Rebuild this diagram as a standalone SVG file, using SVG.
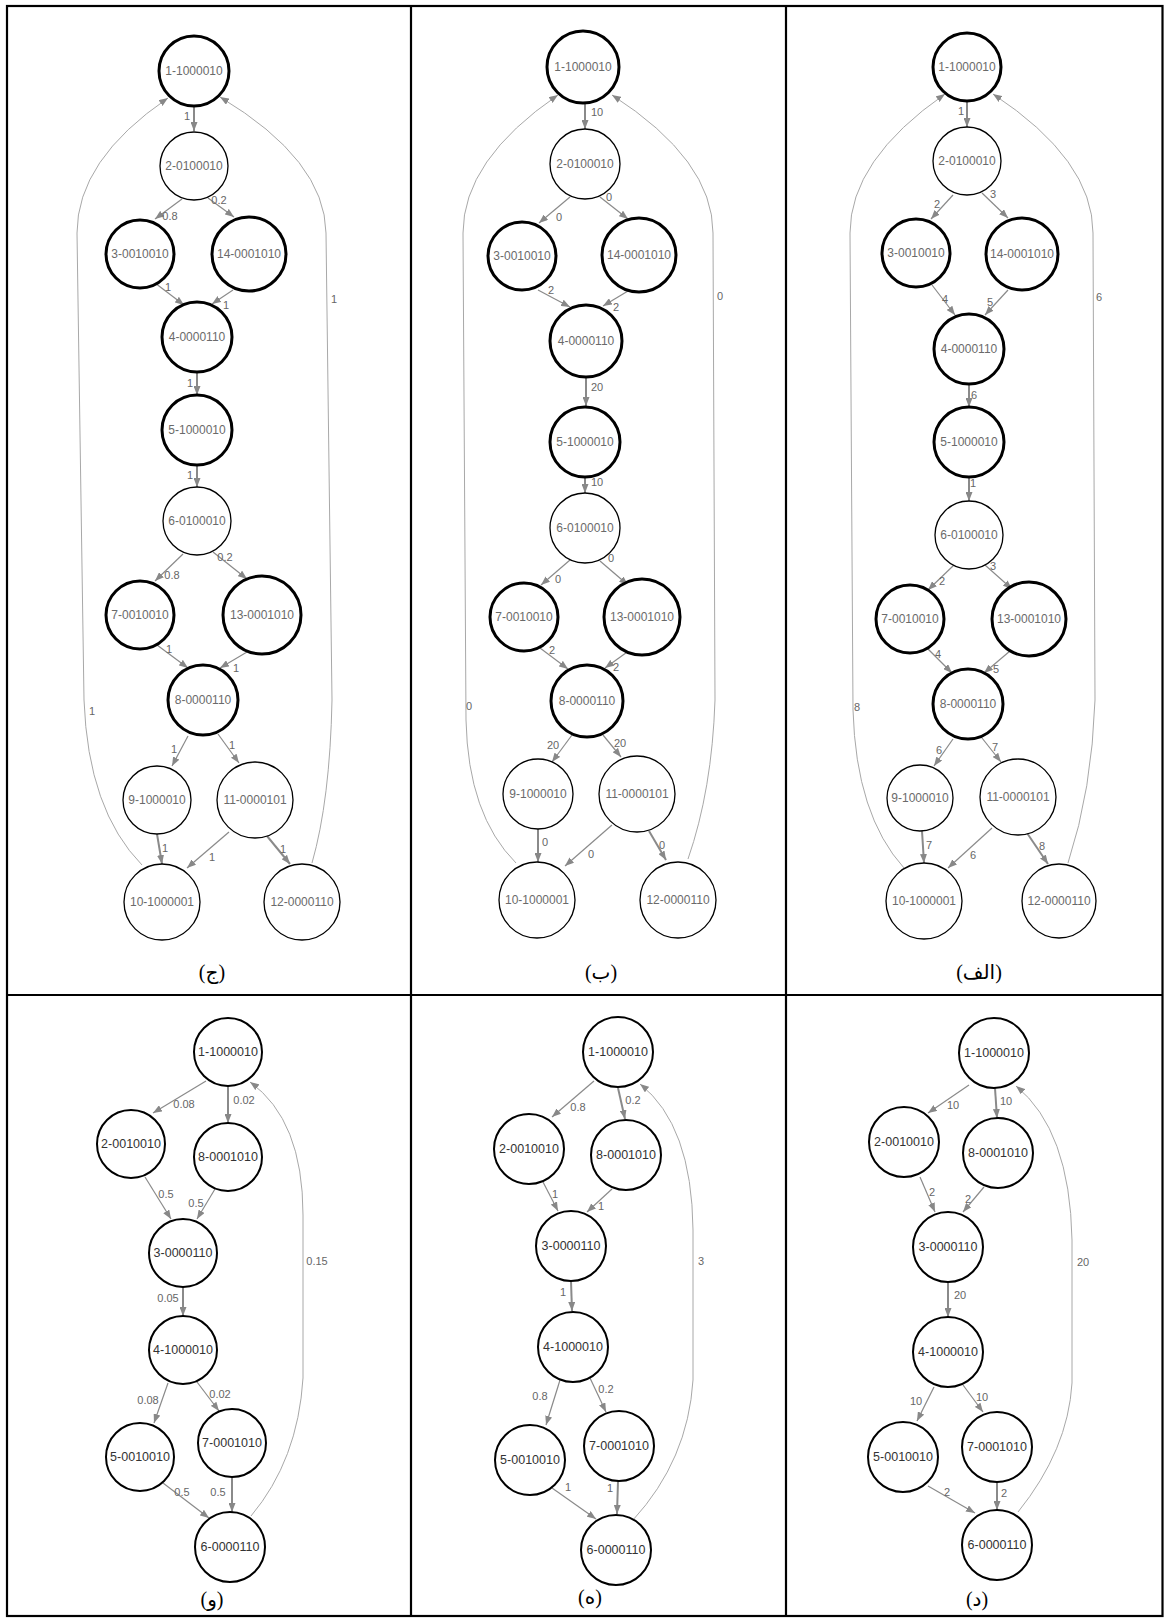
<svg xmlns="http://www.w3.org/2000/svg" width="1164" height="1618" viewBox="0 0 1164 1618">
<style>
.tk{fill:#fff;stroke:#000;stroke-width:3}
.tn{fill:#fff;stroke:#000;stroke-width:1.3}
.bn{fill:#fff;stroke:#000;stroke-width:2}
.nl{font-family:"Liberation Sans",Arial,sans-serif;font-size:12px;fill:#6a6a6a;text-anchor:middle}
.bl{font-family:"Liberation Sans",Arial,sans-serif;font-size:12.5px;fill:#333;text-anchor:middle}
.e{stroke:#8a8a8a;stroke-width:1.2;fill:none;marker-end:url(#ah)}
.v{stroke-width:2}
.c{stroke:#a8a8a8;stroke-width:1;fill:none;marker-end:url(#ah)}
.el{font-family:"Liberation Sans",Arial,sans-serif;font-size:11px;fill:#666;text-anchor:middle}
.cap{font-family:"Liberation Serif","DejaVu Sans",serif;font-size:20px;fill:#000;text-anchor:middle}
.tb{stroke:#000;stroke-width:2.2;fill:none}
</style>
<defs>
<marker id="ah" viewBox="0 0 9 7" refX="9" refY="3.5" markerWidth="9" markerHeight="7" markerUnits="userSpaceOnUse" orient="auto"><path d="M0,0 L9,3.5 L0,7 z" fill="#888"/></marker>
</defs>
<rect width="1164" height="1618" fill="#fff"/>
<g id="table">
<rect class="tb" x="7" y="6" width="1155.5" height="1610"/>
<line class="tb" x1="411" y1="6" x2="411" y2="1616"/>
<line class="tb" x1="786" y1="6" x2="786" y2="1616"/>
<line class="tb" x1="7" y1="995" x2="1162" y2="995"/>
</g>
<g id="connectors">
<!-- panel j -->
<path class="e v" d="M194,106 L194,131"/><text class="el" x="187" y="120">1</text>
<path class="e" d="M182,199 L155,219"/><text class="el" x="170" y="220">0.8</text>
<path class="e" d="M208,198 L234,217"/><text class="el" x="219" y="204">0.2</text>
<path class="e" d="M155,283 L184,305"/><text class="el" x="168" y="291">1</text>
<path class="e" d="M233,290 L212,304"/><text class="el" x="226" y="309">1</text>
<path class="e v" d="M197,372 L197,395"/><text class="el" x="190" y="387">1</text>
<path class="e v" d="M197,465 L197,487"/><text class="el" x="190" y="479">1</text>
<path class="e" d="M183,554 L155,581"/><text class="el" x="172" y="579">0.8</text>
<path class="e" d="M213,552 L247,579"/><text class="el" x="225" y="561">0.2</text>
<path class="e" d="M157,645 L188,668"/><text class="el" x="169" y="653">1</text>
<path class="e" d="M247,652 L220,668"/><text class="el" x="236" y="672">1</text>
<path class="e" d="M188,736 L172,766"/><text class="el" x="174" y="753">1</text>
<path class="e" d="M218,734 L239,763"/><text class="el" x="232" y="749">1</text>
<path class="e v" d="M157,834 L162,864"/><text class="el" x="165" y="852">1</text>
<path class="e" d="M229,832 L187,868"/><text class="el" x="212" y="861">1</text>
<path class="e v" d="M267,836 L290,864"/><text class="el" x="283" y="853">1</text>
<path class="c" d="M142,865 Q88,810 84,700 L77,233 Q77,160 168,98"/><text class="el" x="92" y="715">1</text>
<path class="c" d="M312,863 Q330,800 332,700 L326,233 Q325,160 220,97"/><text class="el" x="334" y="303">1</text>
<!-- panel b -->
<path class="e v" d="M585,103 L585,129"/><text class="el" x="597" y="116">10</text>
<path class="e" d="M570,197 L539,223"/><text class="el" x="559" y="221">0</text>
<path class="e" d="M600,197 L628,219"/><text class="el" x="609" y="201">0</text>
<path class="e" d="M538,290 L570,307"/><text class="el" x="551" y="294">2</text>
<path class="e" d="M628,291 L603,306"/><text class="el" x="616" y="311">2</text>
<path class="e v" d="M586,377 L586,406"/><text class="el" x="597" y="391">20</text>
<path class="e v" d="M585,477 L585,493"/><text class="el" x="597" y="486">10</text>
<path class="e" d="M570,560 L541,585"/><text class="el" x="558" y="583">0</text>
<path class="e" d="M600,561 L628,585"/><text class="el" x="611" y="562">0</text>
<path class="e" d="M540,648 L568,669"/><text class="el" x="552" y="654">2</text>
<path class="e" d="M630,650 L605,668"/><text class="el" x="616" y="671">2</text>
<path class="e" d="M572,735 L552,762"/><text class="el" x="553" y="749">20</text>
<path class="e" d="M603,735 L621,757"/><text class="el" x="620" y="747">20</text>
<path class="e v" d="M538,829 L538,862"/><text class="el" x="545" y="846">0</text>
<path class="e" d="M612,825 L565,866"/><text class="el" x="591" y="858">0</text>
<path class="e v" d="M649,831 L666,860"/><text class="el" x="662" y="849">0</text>
<path class="c" d="M516,863 Q468,815 466,720 L463,233 Q463,160 558,95"/><text class="el" x="469" y="710">0</text>
<path class="c" d="M688,859 Q712,790 715,700 L713,233 Q713,160 612,95"/><text class="el" x="720" y="300">0</text>
<!-- panel alef -->
<path class="e v" d="M967,101 L967,127"/><text class="el" x="961" y="115">1</text>
<path class="e" d="M953,195 L931,219"/><text class="el" x="937" y="208">2</text>
<path class="e" d="M982,193 L1008,218"/><text class="el" x="993" y="198">3</text>
<path class="e" d="M932,285 L955,315"/><text class="el" x="945" y="303">4</text>
<path class="e" d="M1008,290 L985,315"/><text class="el" x="990" y="306">5</text>
<path class="e v" d="M969,384 L969,407"/><text class="el" x="974" y="399">6</text>
<path class="e v" d="M969,477 L969,501"/><text class="el" x="973" y="487">1</text>
<path class="e" d="M954,565 L928,590"/><text class="el" x="942" y="585">2</text>
<path class="e" d="M985,565 L1012,589"/><text class="el" x="993" y="570">3</text>
<path class="e" d="M927,648 L952,673"/><text class="el" x="938" y="658">4</text>
<path class="e" d="M1010,651 L984,673"/><text class="el" x="996" y="673">5</text>
<path class="e" d="M953,739 L934,766"/><text class="el" x="939" y="754">6</text>
<path class="e" d="M982,738 L1001,762"/><text class="el" x="995" y="751">7</text>
<path class="e v" d="M922,831 L924,863"/><text class="el" x="929" y="849">7</text>
<path class="e" d="M992,828 L948,868"/><text class="el" x="973" y="859">6</text>
<path class="e v" d="M1027,833 L1048,864"/><text class="el" x="1042" y="850">8</text>
<path class="c" d="M904,868 Q856,815 853,710 L850,233 Q850,160 945,94"/><text class="el" x="857" y="711">8</text>
<path class="c" d="M1068,863 Q1092,790 1095,700 L1093,233 Q1093,160 993,94"/><text class="el" x="1099" y="301">6</text>
<!-- panel vav -->
<path class="e" d="M206,1081 L153,1113"/><text class="el" x="184" y="1108">0.08</text>
<path class="e v" d="M228,1086 L228,1123"/><text class="el" x="244" y="1104">0.02</text>
<path class="e" d="M145,1177 L171,1219"/><text class="el" x="166" y="1198">0.5</text>
<path class="e" d="M215,1189 L197,1219"/><text class="el" x="196" y="1207">0.5</text>
<path class="e v" d="M183,1287 L183,1316"/><text class="el" x="168" y="1302">0.05</text>
<path class="e" d="M168,1383 L154,1423"/><text class="el" x="148" y="1404">0.08</text>
<path class="e" d="M197,1382 L219,1411"/><text class="el" x="220" y="1398">0.02</text>
<path class="e" d="M163,1483 L209,1518"/><text class="el" x="182" y="1496">0.5</text>
<path class="e v" d="M232,1477 L232,1512"/><text class="el" x="218" y="1496">0.5</text>
<path class="c" d="M251,1516 Q298,1460 303,1378 L303,1215 Q303,1120 250,1082"/><text class="el" x="317" y="1265">0.15</text>
<!-- panel he -->
<path class="e" d="M594,1081 L552,1117"/><text class="el" x="578" y="1111">0.8</text>
<path class="e v" d="M618,1088 L625,1119"/><text class="el" x="633" y="1104">0.2</text>
<path class="e" d="M543,1182 L558,1211"/><text class="el" x="555" y="1198">1</text>
<path class="e" d="M612,1189 L587,1212"/><text class="el" x="601" y="1210">1</text>
<path class="e v" d="M571,1281 L572,1311"/><text class="el" x="563" y="1296">1</text>
<path class="e" d="M560,1380 L546,1425"/><text class="el" x="540" y="1400">0.8</text>
<path class="e" d="M590,1378 L606,1412"/><text class="el" x="606" y="1393">0.2</text>
<path class="e" d="M552,1488 L596,1519"/><text class="el" x="568" y="1491">1</text>
<path class="e v" d="M618,1481 L617,1514"/><text class="el" x="610" y="1492">1</text>
<path class="c" d="M633,1520 Q688,1460 693,1380 L693,1230 Q692,1125 640,1084"/><text class="el" x="701" y="1265">3</text>
<!-- panel dal -->
<path class="e" d="M969,1085 L928,1113"/><text class="el" x="953" y="1109">10</text>
<path class="e v" d="M995,1088 L997,1118"/><text class="el" x="1006" y="1105">10</text>
<path class="e" d="M920,1177 L935,1212"/><text class="el" x="932" y="1196">2</text>
<path class="e" d="M984,1187 L963,1212"/><text class="el" x="968" y="1203">2</text>
<path class="e v" d="M948,1282 L948,1317"/><text class="el" x="960" y="1299">20</text>
<path class="e" d="M934,1387 L917,1421"/><text class="el" x="916" y="1405">10</text>
<path class="e" d="M963,1385 L983,1412"/><text class="el" x="982" y="1401">10</text>
<path class="e" d="M928,1486 L975,1513"/><text class="el" x="947" y="1496">2</text>
<path class="e v" d="M997,1482 L997,1510"/><text class="el" x="1004" y="1497">2</text>
<path class="c" d="M1018,1512 Q1068,1450 1072,1383 L1072,1240 Q1070,1130 1016,1086"/><text class="el" x="1083" y="1266">20</text>
</g>
<!-- nodes panel j -->
<g id="j-n1"><circle class="tk" cx="194" cy="71" r="35"/><text class="nl" x="194" y="75">1-1000010</text></g>
<g id="j-n2"><circle class="tn" cx="194" cy="166" r="34"/><text class="nl" x="194" y="170">2-0100010</text></g>
<g id="j-n3"><circle class="tk" cx="140" cy="254" r="34"/><text class="nl" x="140" y="258">3-0010010</text></g>
<g id="j-n14"><circle class="tk" cx="249" cy="254" r="37"/><text class="nl" x="249" y="258">14-0001010</text></g>
<g id="j-n4"><circle class="tk" cx="197" cy="337" r="35"/><text class="nl" x="197" y="341">4-0000110</text></g>
<g id="j-n5"><circle class="tk" cx="197" cy="430" r="35"/><text class="nl" x="197" y="434">5-1000010</text></g>
<g id="j-n6"><circle class="tn" cx="197" cy="521" r="34"/><text class="nl" x="197" y="525">6-0100010</text></g>
<g id="j-n7"><circle class="tk" cx="140" cy="615" r="34"/><text class="nl" x="140" y="619">7-0010010</text></g>
<g id="j-n13"><circle class="tk" cx="262" cy="615" r="39"/><text class="nl" x="262" y="619">13-0001010</text></g>
<g id="j-n8"><circle class="tk" cx="203" cy="700" r="35"/><text class="nl" x="203" y="704">8-0000110</text></g>
<g id="j-n9"><circle class="tn" cx="157" cy="800" r="34"/><text class="nl" x="157" y="804">9-1000010</text></g>
<g id="j-n11"><circle class="tn" cx="255" cy="800" r="38"/><text class="nl" x="255" y="804">11-0000101</text></g>
<g id="j-n10"><circle class="tn" cx="162" cy="902" r="38"/><text class="nl" x="162" y="906">10-1000001</text></g>
<g id="j-n12"><circle class="tn" cx="302" cy="902" r="38"/><text class="nl" x="302" y="906">12-0000110</text></g>
<!-- nodes panel b -->
<g id="b-n1"><circle class="tk" cx="583" cy="67" r="36"/><text class="nl" x="583" y="71">1-1000010</text></g>
<g id="b-n2"><circle class="tn" cx="585" cy="164" r="35"/><text class="nl" x="585" y="168">2-0100010</text></g>
<g id="b-n3"><circle class="tk" cx="522" cy="256" r="34"/><text class="nl" x="522" y="260">3-0010010</text></g>
<g id="b-n14"><circle class="tk" cx="639" cy="255" r="37"/><text class="nl" x="639" y="259">14-0001010</text></g>
<g id="b-n4"><circle class="tk" cx="586" cy="341" r="36"/><text class="nl" x="586" y="345">4-0000110</text></g>
<g id="b-n5"><circle class="tk" cx="585" cy="442" r="35"/><text class="nl" x="585" y="446">5-1000010</text></g>
<g id="b-n6"><circle class="tn" cx="585" cy="528" r="35"/><text class="nl" x="585" y="532">6-0100010</text></g>
<g id="b-n7"><circle class="tk" cx="524" cy="617" r="34"/><text class="nl" x="524" y="621">7-0010010</text></g>
<g id="b-n13"><circle class="tk" cx="642" cy="617" r="38"/><text class="nl" x="642" y="621">13-0001010</text></g>
<g id="b-n8"><circle class="tk" cx="587" cy="701" r="36"/><text class="nl" x="587" y="705">8-0000110</text></g>
<g id="b-n9"><circle class="tn" cx="538" cy="794" r="35"/><text class="nl" x="538" y="798">9-1000010</text></g>
<g id="b-n11"><circle class="tn" cx="637" cy="794" r="38"/><text class="nl" x="637" y="798">11-0000101</text></g>
<g id="b-n10"><circle class="tn" cx="537" cy="900" r="38"/><text class="nl" x="537" y="904">10-1000001</text></g>
<g id="b-n12"><circle class="tn" cx="678" cy="900" r="38"/><text class="nl" x="678" y="904">12-0000110</text></g>
<!-- nodes panel alef -->
<g id="a-n1"><circle class="tk" cx="967" cy="67" r="34"/><text class="nl" x="967" y="71">1-1000010</text></g>
<g id="a-n2"><circle class="tn" cx="967" cy="161" r="34"/><text class="nl" x="967" y="165">2-0100010</text></g>
<g id="a-n3"><circle class="tk" cx="916" cy="253" r="34"/><text class="nl" x="916" y="257">3-0010010</text></g>
<g id="a-n14"><circle class="tk" cx="1022" cy="254" r="36"/><text class="nl" x="1022" y="258">14-0001010</text></g>
<g id="a-n4"><circle class="tk" cx="969" cy="349" r="35"/><text class="nl" x="969" y="353">4-0000110</text></g>
<g id="a-n5"><circle class="tk" cx="969" cy="442" r="35"/><text class="nl" x="969" y="446">5-1000010</text></g>
<g id="a-n6"><circle class="tn" cx="969" cy="535" r="34"/><text class="nl" x="969" y="539">6-0100010</text></g>
<g id="a-n7"><circle class="tk" cx="910" cy="619" r="34"/><text class="nl" x="910" y="623">7-0010010</text></g>
<g id="a-n13"><circle class="tk" cx="1029" cy="619" r="37"/><text class="nl" x="1029" y="623">13-0001010</text></g>
<g id="a-n8"><circle class="tk" cx="968" cy="704" r="35"/><text class="nl" x="968" y="708">8-0000110</text></g>
<g id="a-n9"><circle class="tn" cx="920" cy="798" r="33"/><text class="nl" x="920" y="802">9-1000010</text></g>
<g id="a-n11"><circle class="tn" cx="1018" cy="797" r="38"/><text class="nl" x="1018" y="801">11-0000101</text></g>
<g id="a-n10"><circle class="tn" cx="924" cy="901" r="38"/><text class="nl" x="924" y="905">10-1000001</text></g>
<g id="a-n12"><circle class="tn" cx="1059" cy="901" r="37"/><text class="nl" x="1059" y="905">12-0000110</text></g>
<!-- nodes panel vav -->
<g id="v-n1"><circle class="bn" cx="228" cy="1052" r="34"/><text class="bl" x="228" y="1056">1-1000010</text></g>
<g id="v-n2"><circle class="bn" cx="131" cy="1144" r="34"/><text class="bl" x="131" y="1148">2-0010010</text></g>
<g id="v-n8"><circle class="bn" cx="228" cy="1157" r="34"/><text class="bl" x="228" y="1161">8-0001010</text></g>
<g id="v-n3"><circle class="bn" cx="183" cy="1253" r="34"/><text class="bl" x="183" y="1257">3-0000110</text></g>
<g id="v-n4"><circle class="bn" cx="183" cy="1350" r="34"/><text class="bl" x="183" y="1354">4-1000010</text></g>
<g id="v-n5"><circle class="bn" cx="140" cy="1457" r="34"/><text class="bl" x="140" y="1461">5-0010010</text></g>
<g id="v-n7"><circle class="bn" cx="232" cy="1443" r="34"/><text class="bl" x="232" y="1447">7-0001010</text></g>
<g id="v-n6"><circle class="bn" cx="230" cy="1547" r="35"/><text class="bl" x="230" y="1551">6-0000110</text></g>
<!-- nodes panel he -->
<g id="h-n1"><circle class="bn" cx="618" cy="1052" r="35"/><text class="bl" x="618" y="1056">1-1000010</text></g>
<g id="h-n2"><circle class="bn" cx="529" cy="1149" r="35"/><text class="bl" x="529" y="1153">2-0010010</text></g>
<g id="h-n8"><circle class="bn" cx="626" cy="1155" r="35"/><text class="bl" x="626" y="1159">8-0001010</text></g>
<g id="h-n3"><circle class="bn" cx="571" cy="1246" r="35"/><text class="bl" x="571" y="1250">3-0000110</text></g>
<g id="h-n4"><circle class="bn" cx="573" cy="1347" r="35"/><text class="bl" x="573" y="1351">4-1000010</text></g>
<g id="h-n5"><circle class="bn" cx="530" cy="1460" r="35"/><text class="bl" x="530" y="1464">5-0010010</text></g>
<g id="h-n7"><circle class="bn" cx="619" cy="1446" r="35"/><text class="bl" x="619" y="1450">7-0001010</text></g>
<g id="h-n6"><circle class="bn" cx="616" cy="1550" r="35"/><text class="bl" x="616" y="1554">6-0000110</text></g>
<!-- nodes panel dal -->
<g id="d-n1"><circle class="bn" cx="994" cy="1053" r="35"/><text class="bl" x="994" y="1057">1-1000010</text></g>
<g id="d-n2"><circle class="bn" cx="904" cy="1142" r="35"/><text class="bl" x="904" y="1146">2-0010010</text></g>
<g id="d-n8"><circle class="bn" cx="998" cy="1153" r="35"/><text class="bl" x="998" y="1157">8-0001010</text></g>
<g id="d-n3"><circle class="bn" cx="948" cy="1247" r="35"/><text class="bl" x="948" y="1251">3-0000110</text></g>
<g id="d-n4"><circle class="bn" cx="948" cy="1352" r="35"/><text class="bl" x="948" y="1356">4-1000010</text></g>
<g id="d-n5"><circle class="bn" cx="903" cy="1457" r="35"/><text class="bl" x="903" y="1461">5-0010010</text></g>
<g id="d-n7"><circle class="bn" cx="997" cy="1447" r="35"/><text class="bl" x="997" y="1451">7-0001010</text></g>
<g id="d-n6"><circle class="bn" cx="997" cy="1545" r="35"/><text class="bl" x="997" y="1549">6-0000110</text></g>
<g id="captions">
<text class="cap" x="212" y="979">(ج)</text>
<text class="cap" x="601" y="979">(ب)</text>
<text class="cap" x="979" y="979">(الف)</text>
<text class="cap" x="212" y="1606">(و)</text>
<text class="cap" x="590" y="1604">(ه)</text>
<text class="cap" x="977" y="1606">(د)</text>
</g>
</svg>
